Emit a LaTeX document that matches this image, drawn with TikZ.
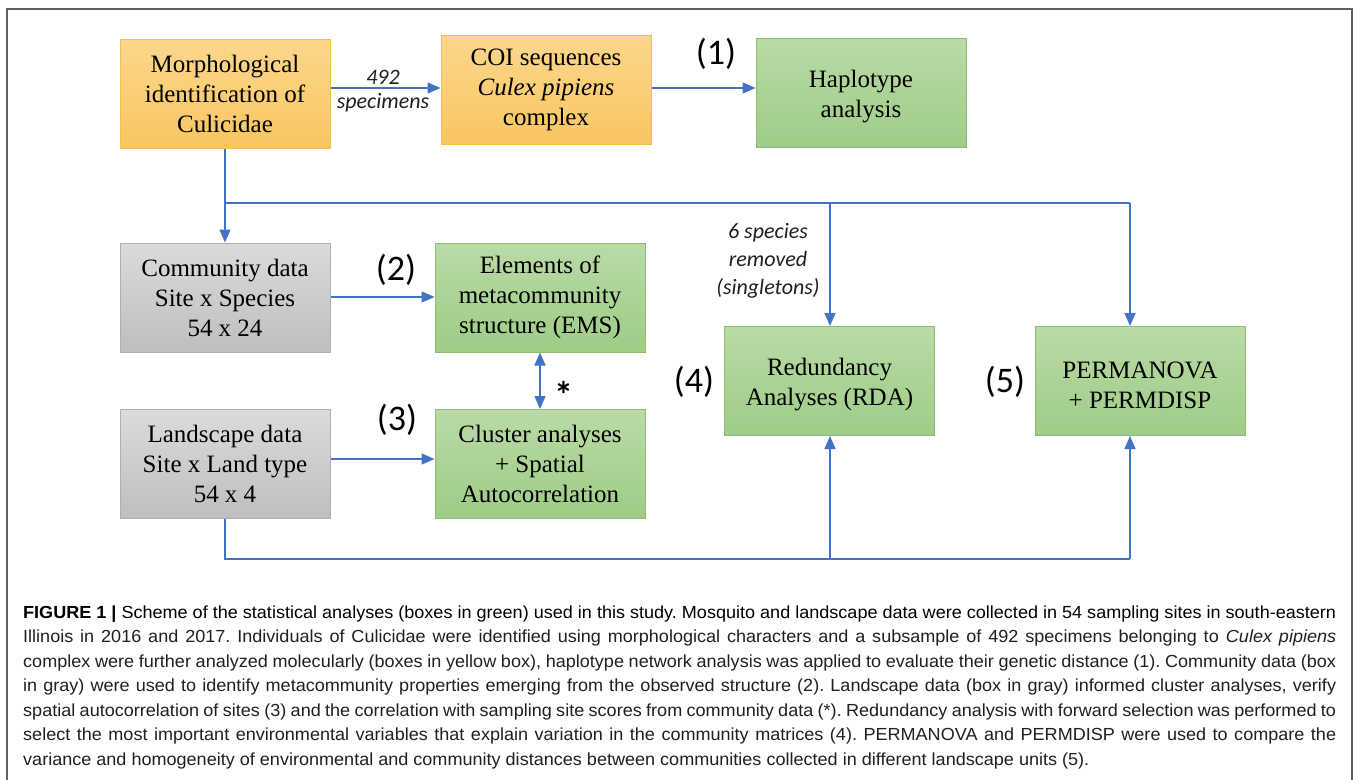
\documentclass[tikz,border=0pt]{standalone}
\usepackage{fontspec}
\setmainfont{Liberation Serif}
\newfontfamily\calfont{Carlito}
\newfontfamily\capfont{Liberation Sans}
\usetikzlibrary{arrows.meta}
\definecolor{arrblue}{RGB}{68,114,196}
\definecolor{otop}{RGB}{251,215,140}
\definecolor{obot}{RGB}{248,198,96}
\definecolor{oedge}{RGB}{240,193,80}
\definecolor{gtop}{RGB}{186,218,166}
\definecolor{gbot}{RGB}{158,204,134}
\definecolor{gedge}{RGB}{140,190,115}
\definecolor{ytop}{RGB}{219,219,219}
\definecolor{ybot}{RGB}{190,190,190}
\definecolor{yedge}{RGB}{175,175,175}
\definecolor{captext}{RGB}{35,31,32}
\definecolor{framecol}{RGB}{95,95,95}
\newsavebox\capbox
\newlength\capwd
\newcommand\topstrut{\rule{0pt}{25pt}}
\newcommand\capA{\textbf{FIGURE 1 |} Scheme of the statistical analyses (boxes in green) used in this study. Mosquito and landscape data were collected in 54 sampling sites in south-eastern}
\begin{document}
\frenchspacing
\sbox\capbox{\capfont\fontsize{17.5}{24}\selectfont\capA}%
\setlength\capwd{\wd\capbox}%
\pgfmathsetmacro\capscale{1313/\capwd}%
\begin{tikzpicture}[x=1pt,y=-1pt,
  box/.style={draw, line width=1pt, minimum width=210pt, minimum height=109pt, inner sep=0pt, align=center, font=\fontsize{25}{30}\selectfont},
  obox/.style={box, draw=oedge, top color=otop, bottom color=obot},
  gbox/.style={box, draw=gedge, top color=gtop, bottom color=gbot},
  ybox/.style={box, draw=yedge, top color=ytop, bottom color=ybot},
  conn/.style={draw=arrblue, line width=1.5pt},
  arr/.style={conn, -{Triangle[length=13pt,width=11pt]}},
  darr/.style={conn, {Triangle[length=13pt,width=11pt]}-{Triangle[length=13pt,width=11pt]}},
  lbl/.style={inner sep=0pt, font=\calfont\fontsize{36}{40}\selectfont},
  note/.style={inner sep=0pt, align=center, text=captext, font=\calfont\itshape\fontsize{22}{28}\selectfont},
  capline/.style={anchor=base west, inner sep=0pt, text=captext, font=\capfont\fontsize{17.5}{24}\selectfont}
]
\useasboundingbox (0,0) rectangle (1357,779);
\fill[white] (0,0) rectangle (1357,779);
\draw[framecol, line width=1.5pt] (7,790) -- (7,9) -- (1352,9) -- (1352,790);

% boxes
\node[obox] (morph) at (225,93.5) {Morphological\\identification of\\Culicidae};
\node[obox] (coi) at (546,89.5) {COI sequences\\\textit{Culex pipiens}\\complex};
\node[gbox] (hap) at (861,93) {\topstrut Haplotype\\analysis};
\node[ybox] (comm) at (225,297.5) {Community data\\Site x Species\\54 x 24};
\node[gbox] (ems) at (540,297.5) {Elements of\\metacommunity\\structure (EMS)};
\node[ybox] (land) at (225,464) {Landscape data\\Site x Land type\\54 x 4};
\node[gbox] (clus) at (540,464) {Cluster analyses\\+ Spatial\\Autocorrelation};
\node[gbox] (rda) at (829.5,381) {\topstrut Redundancy\\Analyses (RDA)};
\node[gbox] (perm) at (1140,381) {\topstrut PERMANOVA\\+ PERMDISP};

% step labels
\node[lbl] (l1) at (716,54) {(1)};
\node[lbl] (l2) at (396,270) {(2)};
\node[lbl] (l3) at (397,420) {(3)};
\node[lbl] (l4) at (694,382) {(4)};
\node[lbl] (l5) at (1005,382) {(5)};

% notes
\node[note] (n492) at (383,77) {492};
\node[note] (nspec) at (383,103) {specimens};
\node[note] (nsing) at (768,261) {6 species\\removed\\(singletons)};
\node[inner sep=0pt, anchor=base, font=\calfont\bfseries\fontsize{38}{38}\selectfont] (ast) at (564,408) {*};

% junctions
\coordinate (ya) at (0,88);
\coordinate (yb) at (0,297);
\coordinate (yc) at (0,459);
\coordinate (jtl) at (225,203);
\coordinate (jtm) at (830,203);
\coordinate (jtr) at (1130,203);
\coordinate (jbl) at (225,559);
\coordinate (jbm) at (830,559);
\coordinate (jbr) at (1130,559);

% connectors
\draw[arr] (morph.east|-ya) -- (coi.west|-ya);
\draw[arr] (coi.east|-ya) -- (hap.west|-ya);
\draw[arr] (morph.south) -- (comm.north);
\draw[conn] (jtl) -- (jtr);
\draw[arr] (jtm) -- (jtm|-rda.north);
\draw[arr] (jtr) -- (jtr|-perm.north);
\draw[arr] (comm.east|-yb) -- (ems.west|-yb);
\draw[darr] (ems.south) -- (clus.north);
\draw[arr] (land.east|-yc) -- (clus.west|-yc);
\draw[conn] (land.south) -- (jbl) -- (jbr);
\draw[arr] (jbm) -- (jbm|-rda.south);
\draw[arr] (jbr) -- (jbr|-perm.south);

% caption
\node[capline] (c1) at (23,618) {\scalebox{\capscale}[1]{\usebox\capbox}};
\node[capline] (c2) at (23,642.5) {\scalebox{\capscale}[1]{\makebox[\capwd][s]{Illinois in 2016 and 2017. Individuals of Culicidae were identified using morphological characters and a subsample of 492 specimens belonging to \textit{Culex pipiens}}}};
\node[capline] (c3) at (23,667) {\scalebox{\capscale}[1]{\makebox[\capwd][s]{complex were further analyzed molecularly (boxes in yellow box), haplotype network analysis was applied to evaluate their genetic distance (1). Community data (box}}};
\node[capline] (c4) at (23,691.5) {\scalebox{\capscale}[1]{\makebox[\capwd][s]{in gray) were used to identify metacommunity properties emerging from the observed structure (2). Landscape data (box in gray) informed cluster analyses, verify}}};
\node[capline] (c5) at (23,716) {\scalebox{\capscale}[1]{\makebox[\capwd][s]{spatial autocorrelation of sites (3) and the correlation with sampling site scores from community data (*). Redundancy analysis with forward selection was performed to}}};
\node[capline] (c6) at (23,740.5) {\scalebox{\capscale}[1]{\makebox[\capwd][s]{select the most important environmental variables that explain variation in the community matrices (4). PERMANOVA and PERMDISP were used to compare the}}};
\node[capline] (c7) at (23,765) {\scalebox{\capscale}[1]{variance and homogeneity of environmental and community distances between communities collected in different landscape units (5).}};
\end{tikzpicture}
\end{document}
